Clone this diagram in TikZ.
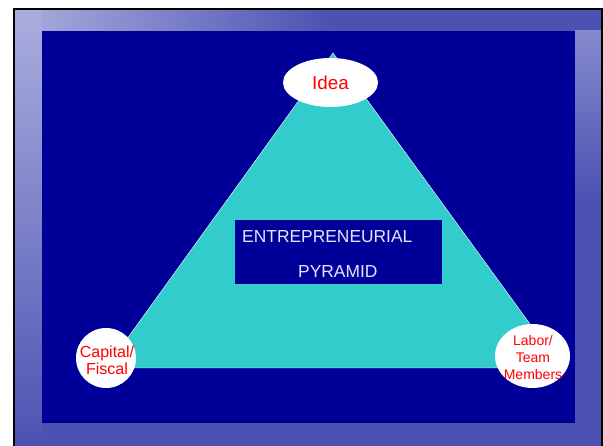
\documentclass[tikz,border=0pt]{standalone}
\usepackage{fontspec}
\setmainfont{Liberation Sans}
\usetikzlibrary{shapes.geometric,positioning}

\definecolor{slideblue}{RGB}{0,0,153}
\definecolor{pyramidteal}{RGB}{51,204,204}
\definecolor{labelred}{RGB}{255,0,0}
\definecolor{titlewhite}{RGB}{228,228,255}
\definecolor{frameblue}{RGB}{76,82,178}
\definecolor{framelight}{RGB}{170,174,222}
\definecolor{framemist}{RGB}{226,228,245}

\tikzset{
    corner/.style={ellipse, fill=white, inner sep=0pt},
    cornertext/.style={inner sep=0pt, text=labelred, align=center},
    titletext/.style={anchor=base west, inner sep=0pt, text=titlewhite,
        font=\fontsize{17.4}{20}\selectfont},
}

\begin{document}
\begin{tikzpicture}[x=1pt, y=-1pt, every node/.style={font=\small}]
    \useasboundingbox (0,0) rectangle (603,446);
    % Background
    \fill[white] (0,0) rectangle (603,446);
    \fill[frameblue] (14,9) rectangle (603,446);
    \shade[left color=framelight, right color=frameblue] (14,9) rectangle (330,31);
    \shade[top color=framelight, middle color=framemist, bottom color=frameblue] (14,9) rectangle (42,446);
    \shade[top color=framelight!60!frameblue, bottom color=frameblue] (575,31) rectangle (601,200);
    \draw[line width=2.5pt] (14,446) -- (14,9) -- (603,9);
    \draw[line width=2pt] (602,9) -- (602,446);
    \fill[slideblue] (42,31) rectangle (575,423);
    % Pyramid
    \coordinate (apex) at (333,53);
    \coordinate (baseL) at (106,368);
    \coordinate (baseR) at (562,368);
    \filldraw[fill=pyramidteal, draw=white, thin] (baseL) -- (apex) -- (baseR) -- cycle;
    % Title
    \node[fill=slideblue, minimum width=207, minimum height=64, inner sep=0pt] (title) at (338.5,252) {};
    \node[titletext] (titleA) at (242,243) {ENTREPRENEURIAL};
    \node[titletext] (titleB) at (298,278) {PYRAMID};
    % Corners
    \node[corner, minimum width=95, minimum height=49] (idea) at (330.5,82.5) {};
    \node[cornertext, font=\fontsize{18.8}{20}\selectfont] (ideaText) at (idea.center) {Idea};
    \node[corner, minimum width=60, minimum height=60] (capital) at (106,358) {};
    \node[cornertext, font=\fontsize{16}{17}\selectfont] (capitalText) at (107,360) {Capital/\\Fiscal};
    \node[corner, minimum width=75, minimum height=64] (labor) at (532.5,356) {};
    \node[cornertext, font=\fontsize{14}{17}\selectfont] (laborText) at (533,357) {Labor/\\Team\\Members};
\end{tikzpicture}
\end{document}
